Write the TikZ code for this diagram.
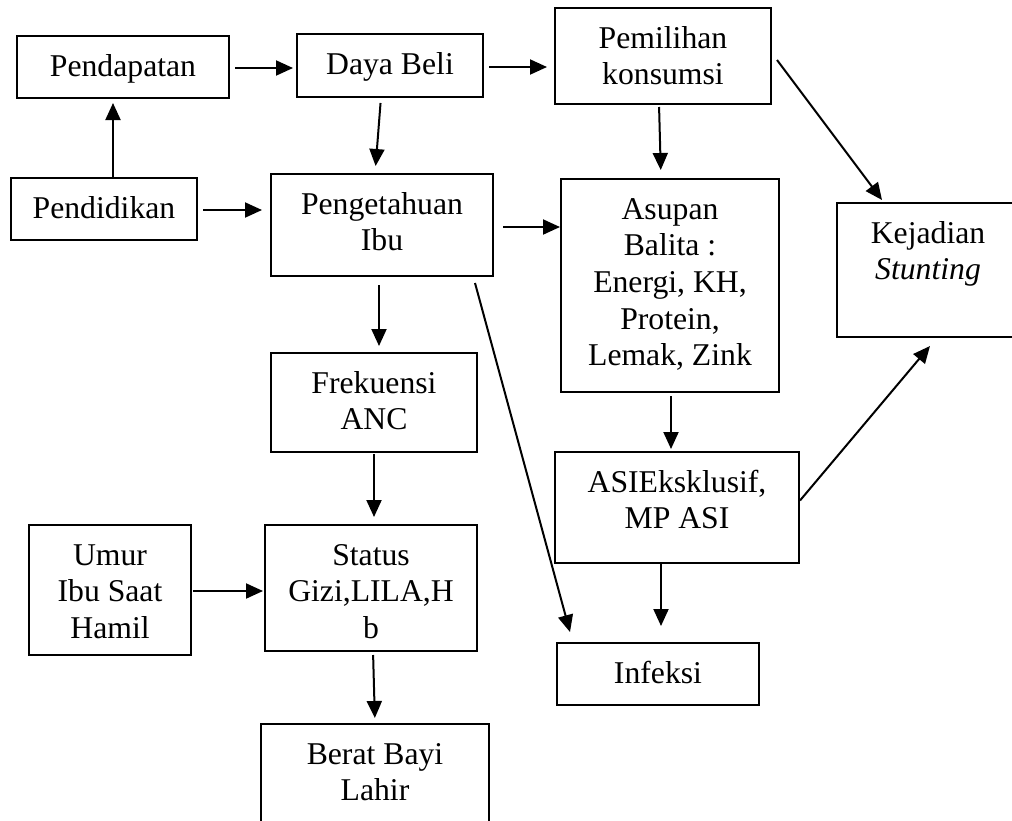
\documentclass[tikz,border=0pt]{standalone}
\usepackage{fontspec}
\setmainfont{Liberation Serif}
\usetikzlibrary{arrows.meta,calc}
\newcommand{\tb}[3]{\parbox[c][#2pt][t]{#1pt}{\centering\rule{0pt}{40pt}#3}}
\tikzset{
  bx/.style={draw, line width=1.6pt, inner sep=0pt, outer sep=0pt, font=\fontsize{31.7}{36.7}\selectfont},
  arr/.style={line width=2pt, -{Triangle[length=17pt,width=15pt]}}
}
\begin{document}
\begin{tikzpicture}[x=1pt,y=-1pt]
\useasboundingbox (0,0) rectangle (1012,820);
\clip (0,0) rectangle (1012,820);
\fill[white] (0,0) rectangle (1012,820);
% boxes
\node[bx] (pend)   at (123,67)    {\tb{212}{62}{Pendapatan}};
\node[bx] (daya)   at (390,65.5)  {\tb{186}{63}{Daya Beli}};
\node[bx] (pemil)  at (663,56)    {\tb{216}{96}{Pemilihan\\konsumsi}};
\node[bx] (pendid) at (104,209)   {\tb{186}{62}{Pendidikan}};
\node[bx] (penget) at (382,225)   {\tb{222}{102}{Pengetahuan\\Ibu}};
\node[bx] (asupan) at (670,285.5) {\tb{218}{213}{Asupan\\Balita :\\Energi, KH,\\Protein,\\Lemak, Zink}};
\node[bx] (kejad)  at (928,270)   {\tb{182}{134}{Kejadian\\\textit{Stunting}}};
\node[bx] (frek)   at (374,402.5) {\tb{206}{99}{Frekuensi\\ANC}};
\node[bx] (asi)    at (677,507.5) {\tb{244}{111}{ASIEksklusif,\\MP ASI}};
\node[bx] (umur)   at (110,590)   {\tb{162}{130}{Umur\\Ibu Saat\\Hamil}};
\node[bx] (status) at (371,588)   {\tb{212}{126}{Status\\Gizi,LILA,H\\b}};
\node[bx] (infek)  at (658,674)   {\tb{202}{62}{Infeksi}};
\node[bx] (berat)  at (375,787)   {\tb{228}{126}{Berat Bayi\\Lahir}};
% connectors
\draw[arr, shorten <=6pt, shorten >=4pt] ($(pend.east)+(0,1)$) -- ($(pend.east -| daya.west)+(0,1)$);
\draw[arr, shorten <=6pt, shorten >=8pt] ($(daya.east)+(0,1.5)$) -- ($(daya.east -| pemil.west)+(0,1.5)$);
\draw[arr, shorten <=1pt, shorten >=5pt] ($(pendid.north)+(9,0)$) -- ($(pend.south)+(-10,0)$);
\draw[arr, shorten <=6pt, shorten >=9pt] ($(pendid.east)+(0,1)$) -- ($(pendid.east -| penget.west)+(0,1)$);
\draw[arr, shorten <=6pt, shorten >=8pt] ($(daya.south)+(-9,0)$) -- ($(penget.north)+(-7,0)$);
\draw[arr, shorten <=3pt, shorten >=9pt] ($(pemil.south)+(-4,0)$) -- ($(asupan.north)+(-9,0)$);
\draw[arr, shorten <=10pt, shorten >=1pt] ($(penget.east)+(0,2)$) -- ($(penget.east -| asupan.west)+(0,2)$);
\draw[arr] ($(pemil.east)+(6,4)$) -- ($(kejad.north west)+(45,-3)$);
\draw[arr] ($(asi.east)+(1,-7)$) -- ($(kejad.south)+(2,9)$);
\draw[arr, shorten <=4pt, shorten >=3pt] ($(asupan.south)+(1,0)$) -- ($(asupan.south |- asi.north)+(1,0)$);
\draw[arr, shorten <=9pt, shorten >=7pt] ($(penget.south)+(-3,0)$) -- ($(penget.south |- frek.north)+(-3,0)$);
\draw[arr] ($(penget.south east)+(-18,7)$) -- ($(infek.north west)+(13,-11)$);
\draw[arr, shorten <=2pt, shorten >=8pt] (frek.south) -- (frek.south |- status.north);
\draw[arr, shorten <=2pt, shorten >=2pt] ($(umur.east)+(0,1)$) -- ($(umur.east -| status.west)+(0,1)$);
\draw[arr, shorten <=4pt, shorten >=6pt] ($(status.south)+(2,0)$) -- (berat.north);
\draw[arr, shorten >=17pt] ($(asi.south)+(-16,0)$) -- ($(asi.south |- infek.north)+(-16,0)$);
\end{tikzpicture}
\end{document}
